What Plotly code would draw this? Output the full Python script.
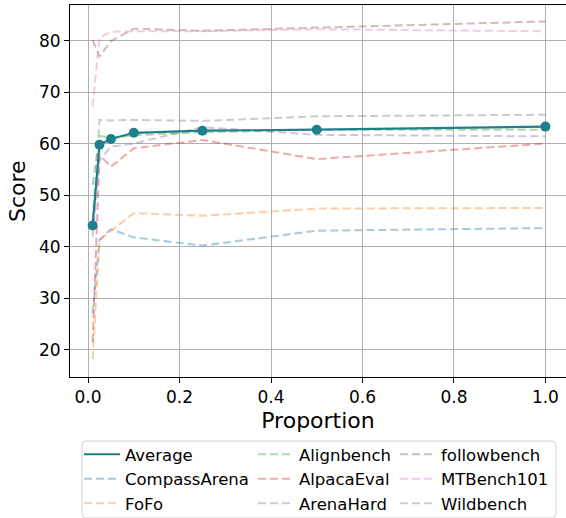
import plotly.graph_objects as go

proportion = [0.01, 0.025, 0.05, 0.1, 0.25, 0.5, 1.0]

average = [44.1, 59.8, 60.9, 62.1, 62.5, 62.7, 63.3]
compass_arena = [27.0, 41.3, 43.4, 41.8, 40.2, 43.1, 43.6]
fofo = [18.2, 41.3, 43.0, 46.5, 46.0, 47.4, 47.5]
alignbench = [52.0, 61.5, 61.1, 61.6, 62.2, 62.7, 62.7]
alpaca_eval = [21.5, 57.8, 55.5, 59.1, 60.7, 57.0, 60.0]
arena_hard = [42.0, 56.8, 59.4, 60.0, 63.2, 61.7, 61.4]
followbench = [80.1, 76.9, 79.9, 82.3, 81.9, 82.5, 83.7]
mtbench101 = [67.2, 80.6, 81.7, 81.8, 81.8, 82.2, 81.8]
wildbench = [45.0, 64.6, 64.5, 64.6, 64.4, 65.3, 65.6]

series_names = ["CompassArena", "FoFo", "Alignbench", "AlpacaEval", "ArenaHard",
                "followbench", "MTBench101", "Wildbench"]
series_values = [compass_arena, fofo, alignbench, alpaca_eval, arena_hard,
                 followbench, mtbench101, wildbench]
series_colors = ["rgba(31,119,180,0.4)", "rgba(255,127,14,0.4)", "rgba(44,160,44,0.4)",
                 "rgba(214,39,40,0.4)", "rgba(148,103,189,0.4)", "rgba(140,86,75,0.4)",
                 "rgba(227,119,194,0.4)", "rgba(127,127,127,0.4)"]
# legend column placement (column-major like matplotlib ncol=3)
legend_ids = ["legend", "legend", "legend2", "legend2", "legend2",
              "legend3", "legend3", "legend3"]

FONT = "DejaVu Sans"
W, H = 566, 518
ML, MR, MT, MB = 70, 0, 5, 141
PW, PH = W - ML - MR, H - MT - MB


def px_x(px):
    return (px - ML) / PW


def px_y(py):
    return (H - MB - py) / PH


fig = go.Figure()

for name, vals, col, lg in zip(series_names, series_values, series_colors, legend_ids):
    fig.add_trace(go.Scatter(
        x=proportion, y=vals, mode="lines", name=name,
        line=dict(color=col, width=2, dash="8px,4px"),
        legend=lg,
    ))

fig.add_trace(go.Scatter(
    x=proportion, y=average, mode="lines", name="Average",
    line=dict(color="#1f7f8b", width=2.2),
    legend="legend", legendrank=1,
))
fig.add_trace(go.Scatter(
    x=proportion, y=average, mode="markers", name="Average",
    marker=dict(color="#1f7f8b", size=10),
    showlegend=False,
))

# legend frame (rounded rectangle)
x0, x1 = px_x(82), px_x(556)
y0, y1 = px_y(518), px_y(441)
rx, ry = 4 / PW, 4 / PH
path = (f"M {x0+rx},{y1} L {x1-rx},{y1} Q {x1},{y1} {x1},{y1-ry} "
        f"L {x1},{y0+ry} Q {x1},{y0} {x1-rx},{y0} L {x0+rx},{y0} "
        f"Q {x0},{y0} {x0},{y0+ry} L {x0},{y1-ry} Q {x0},{y1} {x0+rx},{y1} Z")
fig.add_shape(type="path", path=path, xref="paper", yref="paper",
              line=dict(color="rgba(204,204,204,0.9)", width=1),
              fillcolor="rgba(255,255,255,0.8)", layer="below")

# y axis title
fig.add_annotation(text="Score", xref="paper", yref="paper",
                   x=px_x(17), y=px_y(191), textangle=-90, showarrow=False,
                   xanchor="center", yanchor="middle",
                   font=dict(family=FONT, size=22, color="black"))

legend_common = dict(font=dict(family=FONT, size=16.5, color="black"),
                     bgcolor="rgba(0,0,0,0)", borderwidth=0,
                     xanchor="left", yanchor="top", orientation="v",
                     itemwidth=36, tracegroupgap=0, traceorder="normal")

fig.update_layout(
    width=W, height=H,
    margin=dict(l=ML, r=MR, t=MT, b=MB, autoexpand=False),
    paper_bgcolor="white", plot_bgcolor="white",
    font=dict(family=FONT, color="black"),
    legend=dict(x=px_x(79), y=px_y(437), **legend_common),
    legend2=dict(x=px_x(253), y=px_y(437), **legend_common),
    legend3=dict(x=px_x(395), y=px_y(437), **legend_common),
    xaxis=dict(
        range=[-0.0395, 1.045],
        tickvals=[0.0, 0.2, 0.4, 0.6, 0.8, 1.0],
        ticktext=["0.0", "0.2", "0.4", "0.6", "0.8", "1.0"],
        showgrid=True, gridcolor="#b0b0b0", gridwidth=1,
        showline=True, linecolor="black", linewidth=1, mirror=True,
        ticks="outside", ticklen=5, tickcolor="black",
        tickfont=dict(family=FONT, size=17, color="black"),
        title=dict(text="Proportion", font=dict(family=FONT, size=22, color="black"), standoff=6),
        zeroline=False,
    ),
    yaxis=dict(
        range=[14.7, 86.9],
        tickvals=[20, 30, 40, 50, 60, 70, 80],
        showgrid=True, gridcolor="#b0b0b0", gridwidth=1,
        showline=True, linecolor="black", linewidth=1, mirror=True,
        ticks="outside", ticklen=5, tickcolor="black",
        tickfont=dict(family=FONT, size=17, color="black"),
        zeroline=False,
    ),
)

fig.write_html("out.html", post_script="document.body.style.margin='0';",
               config={"displayModeBar": False})
